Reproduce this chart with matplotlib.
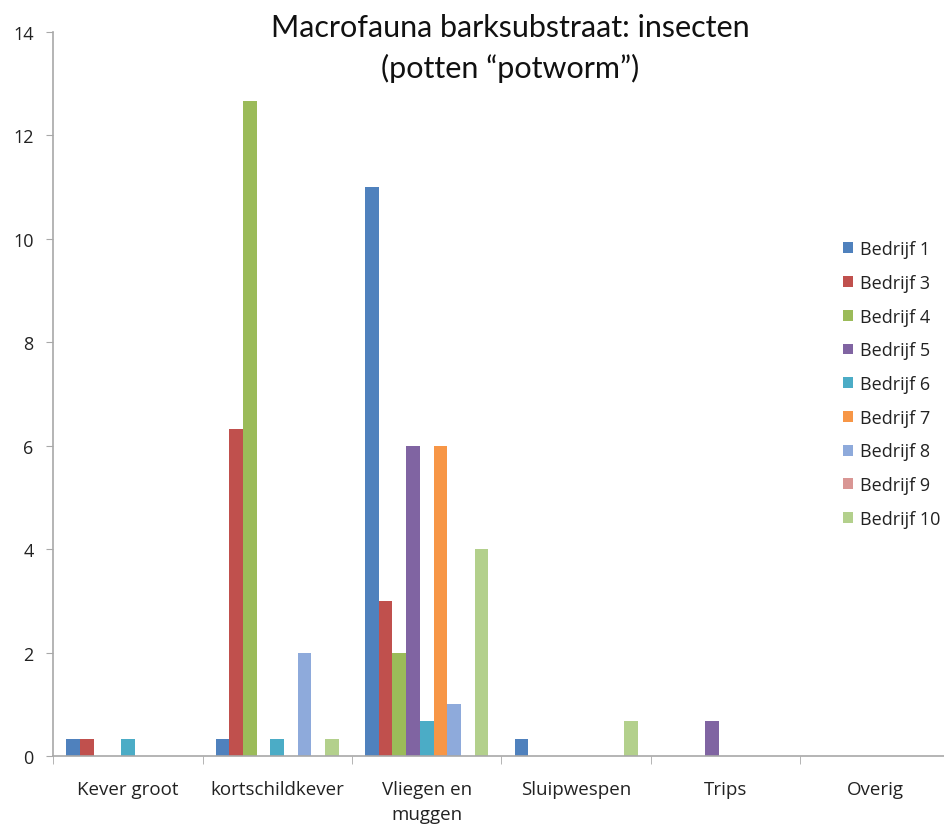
import matplotlib
matplotlib.use("Agg")
import matplotlib.pyplot as plt
import numpy as np
from matplotlib.patches import Patch

categories = ["Kever groot", "kortschildkever", "Vliegen en\nmuggen", "Sluipwespen", "Trips", "Overig"]
series_names = ["Bedrijf 1", "Bedrijf 3", "Bedrijf 4", "Bedrijf 5", "Bedrijf 6",
                "Bedrijf 7", "Bedrijf 8", "Bedrijf 9", "Bedrijf 10"]
bedrijf1 = [0.33, 0.33, 11, 0.33, 0, 0]
bedrijf3 = [0.33, 6.33, 3, 0, 0, 0]
bedrijf4 = [0, 12.67, 2, 0, 0, 0]
bedrijf5 = [0, 0, 6, 0, 0.67, 0]
bedrijf6 = [0.33, 0.33, 0.67, 0, 0, 0]
bedrijf7 = [0, 0, 6, 0, 0, 0]
bedrijf8 = [0, 2, 1, 0, 0, 0]
bedrijf9 = [0, 0, 0, 0, 0, 0]
bedrijf10 = [0, 0.33, 4, 0.67, 0, 0]
values = [bedrijf1, bedrijf3, bedrijf4, bedrijf5, bedrijf6, bedrijf7, bedrijf8, bedrijf9, bedrijf10]
colors = ["#4F81BD", "#C0504D", "#9BBB59", "#8064A2", "#4BACC6",
          "#F79646", "#8EAADB", "#D99694", "#B3D08C"]

plt.rcParams['font.family'] = ['Open Sans', 'DejaVu Sans']

fig = plt.figure(figsize=(9.44, 8.28), dpi=100)
ax = fig.add_axes([53/944, 71/828, 897/944, 724/828])

n = len(series_names)
bw = 13.7 / 149.5
x = np.arange(len(categories))
for i, (name, vals, c) in enumerate(zip(series_names, values, colors)):
    offs = (i - (n - 1) / 2) * bw
    ax.bar(x + offs, vals, width=bw, color=c, label=name, linewidth=0)

ax.set_xlim(-0.5, len(categories) - 0.5)
ax.set_ylim(0, 14)
ax.set_yticks(np.arange(0, 15, 2))
ax.set_yticklabels([str(v) for v in range(0, 15, 2)], fontsize=13, color="#222222")
ax.set_xticks(x)
ax.set_xticklabels(categories, fontsize=13.5, color="#222222", linespacing=1.55)
ax.tick_params(axis='x', length=0, pad=17)
ax.set_xticks(np.arange(-0.5, len(categories), 1), minor=True)
ax.tick_params(axis='x', which='minor', length=6, color="#A8A8A8", direction='out')
ax.tick_params(axis='y', length=5, color="#A8A8A8", pad=9)

for s in ["top", "right"]:
    ax.spines[s].set_visible(False)
for s in ["left", "bottom"]:
    ax.spines[s].set_color("#A8A8A8")
    ax.spines[s].set_linewidth(1.2)

fig.text(510/944, 1 - 28/828, "Macrofauna barksubstraat: insecten", ha="center", va="center",
         fontsize=22, color="#111111", family=["Lato", "DejaVu Sans"])
fig.text(510/944, 1 - 68/828, "(potten \u201cpotworm\u201d)", ha="center", va="center",
         fontsize=22, color="#111111", family=["Lato", "DejaVu Sans"])

handles = [Patch(facecolor=c, label=nm) for nm, c in zip(series_names, colors)]
leg = fig.legend(handles=handles, loc="upper left", bbox_to_anchor=(836/944, 1 - 234/828),
                 frameon=False, fontsize=13, handlelength=0.55, handleheight=0.55,
                 handletextpad=0.4, labelspacing=0.87, borderaxespad=0)
for t in leg.get_texts():
    t.set_color("#222222")

fig.savefig("out.png", dpi=100)
